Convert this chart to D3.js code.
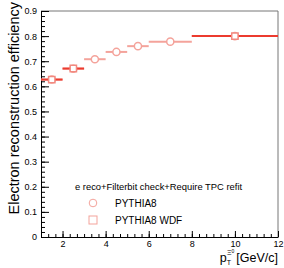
<!DOCTYPE html>
<html>
<head>
<meta charset="utf-8">
<script src="https://cdn.jsdelivr.net/npm/d3@7"></script>
<style>
  body { margin: 0; background: #fff; }
  svg { display: block; font-family: "Liberation Sans", Arial, sans-serif; }
</style>
</head>
<body>
<div id="chart"></div>
<script>
// bins in pT (GeV/c)
var binLo = [1, 2, 3, 4, 5, 6, 8];
var binHi = [2, 3, 4, 5, 6, 8, 12];
// efficiencies
var pythia8 = [0.627, 0.670, 0.708, 0.737, 0.760, 0.778, 0.800];
var pythia8WDF = [0.627, 0.671, null, null, null, null, 0.800];

var xTicks = [2, 4, 6, 8, 10, 12];
var yTicks = [0, 0.1, 0.2, 0.3, 0.4, 0.5, 0.6, 0.7, 0.8, 0.9];

var legendHeader = "e reco+Filterbit check+Require TPC refit";
var legendNames = ["PYTHIA8", "PYTHIA8 WDF"];

var salmon = "#f4a39b", red = "#ec3b2f";

var svg = d3.select("#chart")
  .append("svg")
  .attr("width", 284)
  .attr("height", 268);

var x = d3.scaleLinear().domain([1, 12]).range([41, 278]);
var y = d3.scaleLinear().domain([0, 0.9]).range([237, 11]);

// frame (top + right)
svg.append("path")
  .attr("d", "M" + x(1) + "," + y(0.9) + "H" + x(12) + "V" + y(0))
  .attr("fill", "none")
  .attr("stroke", "#777")
  .attr("stroke-width", 1);

// minor ticks
var yMinor = d3.range(0, 0.9001, 0.02);
var xMinor = d3.range(1, 12.001, 1 / 3);

svg.append("g")
  .attr("transform", "translate(" + x(1) + ",0)")
  .call(d3.axisLeft(y).tickValues(yMinor).tickSize(-4).tickFormat(""))
  .call(function(g) { g.select(".domain").remove(); });

svg.append("g")
  .attr("transform", "translate(0," + y(0) + ")")
  .call(d3.axisBottom(x).tickValues(xMinor).tickSize(-3).tickFormat(""))
  .call(function(g) { g.select(".domain").remove(); });

// major axes
var yAxis = svg.append("g")
  .attr("transform", "translate(" + x(1) + ",0)")
  .call(d3.axisLeft(y).tickValues(yTicks).tickSize(-8).tickSizeOuter(0).tickPadding(4)
    .tickFormat(function(d) { return d === 0 ? "0" : d3.format(".1f")(d); }));
yAxis.selectAll("text").attr("font-size", 9).attr("fill", "#000");

var xAxis = svg.append("g")
  .attr("transform", "translate(0," + y(0) + ")")
  .call(d3.axisBottom(x).tickValues(xTicks).tickSize(-6).tickSizeOuter(0).tickPadding(4));
xAxis.selectAll("text").attr("font-size", 9).attr("fill", "#000");

svg.selectAll(".domain").attr("stroke", "#000");
svg.selectAll(".tick line").attr("stroke", "#000");

// axis titles
svg.append("text")
  .attr("transform", "translate(19,2) rotate(-90)")
  .attr("text-anchor", "end")
  .attr("font-size", 14.5)
  .text("Electron reconstruction efficiency");

var xt = svg.append("text")
  .attr("x", 278)
  .attr("y", 262)
  .attr("text-anchor", "end")
  .attr("font-size", 12.5);
xt.append("tspan").text("p");
xt.append("tspan").attr("font-size", 7).attr("dy", 3).attr("dx", 0).text("T");
xt.append("tspan").attr("font-size", 7).attr("dx", -4).attr("dy", -10).text("\u039E");
xt.append("tspan").attr("font-size", 5).attr("dy", -2).text("0");
xt.append("tspan").attr("dy", 9).attr("dx", 2).text("[GeV/c]");

// series
function drawSeries(values, lineColor, markerColor, shape) {
  var pts = values.map(function(v, i) { return { lo: binLo[i], hi: binHi[i], v: v }; })
    .filter(function(d) { return d.v !== null; });

  svg.append("g").selectAll("line")
    .data(pts)
    .enter()
    .append("line")
    .attr("x1", function(d) { return x(d.lo); })
    .attr("x2", function(d) { return x(d.hi); })
    .attr("y1", function(d) { return y(d.v); })
    .attr("y2", function(d) { return y(d.v); })
    .attr("stroke", lineColor)
    .attr("stroke-width", 2);

  var sym = d3.symbol().type(shape === "circle" ? d3.symbolCircle : d3.symbolSquare).size(40);
  svg.append("g").selectAll("path")
    .data(pts)
    .enter()
    .append("path")
    .attr("d", sym)
    .attr("transform", function(d) { return "translate(" + x((d.lo + d.hi) / 2) + "," + y(d.v) + ")"; })
    .attr("fill", "#fff")
    .attr("stroke", markerColor)
    .attr("stroke-width", 1.5);
}

drawSeries(pythia8, salmon, salmon, "circle");
drawSeries(pythia8WDF, red, "#f28a80", "square");

// legend
svg.append("text")
  .attr("x", 75)
  .attr("y", 190)
  .attr("font-size", 9.4)
  .text(legendHeader);

svg.append("circle")
  .attr("cx", 93).attr("cy", 203).attr("r", 3.8)
  .attr("fill", "none").attr("stroke", salmon).attr("stroke-width", 1);
svg.append("rect")
  .attr("x", 89).attr("y", 216).attr("width", 8).attr("height", 8)
  .attr("fill", "none").attr("stroke", salmon).attr("stroke-width", 1);

svg.selectAll(".legname")
  .data(legendNames)
  .enter()
  .append("text")
  .attr("class", "legname")
  .attr("x", 115)
  .attr("y", function(d, i) { return 207 + i * 17; })
  .attr("font-size", 10)
  .text(function(d) { return d; });
</script>
</body>
</html>
